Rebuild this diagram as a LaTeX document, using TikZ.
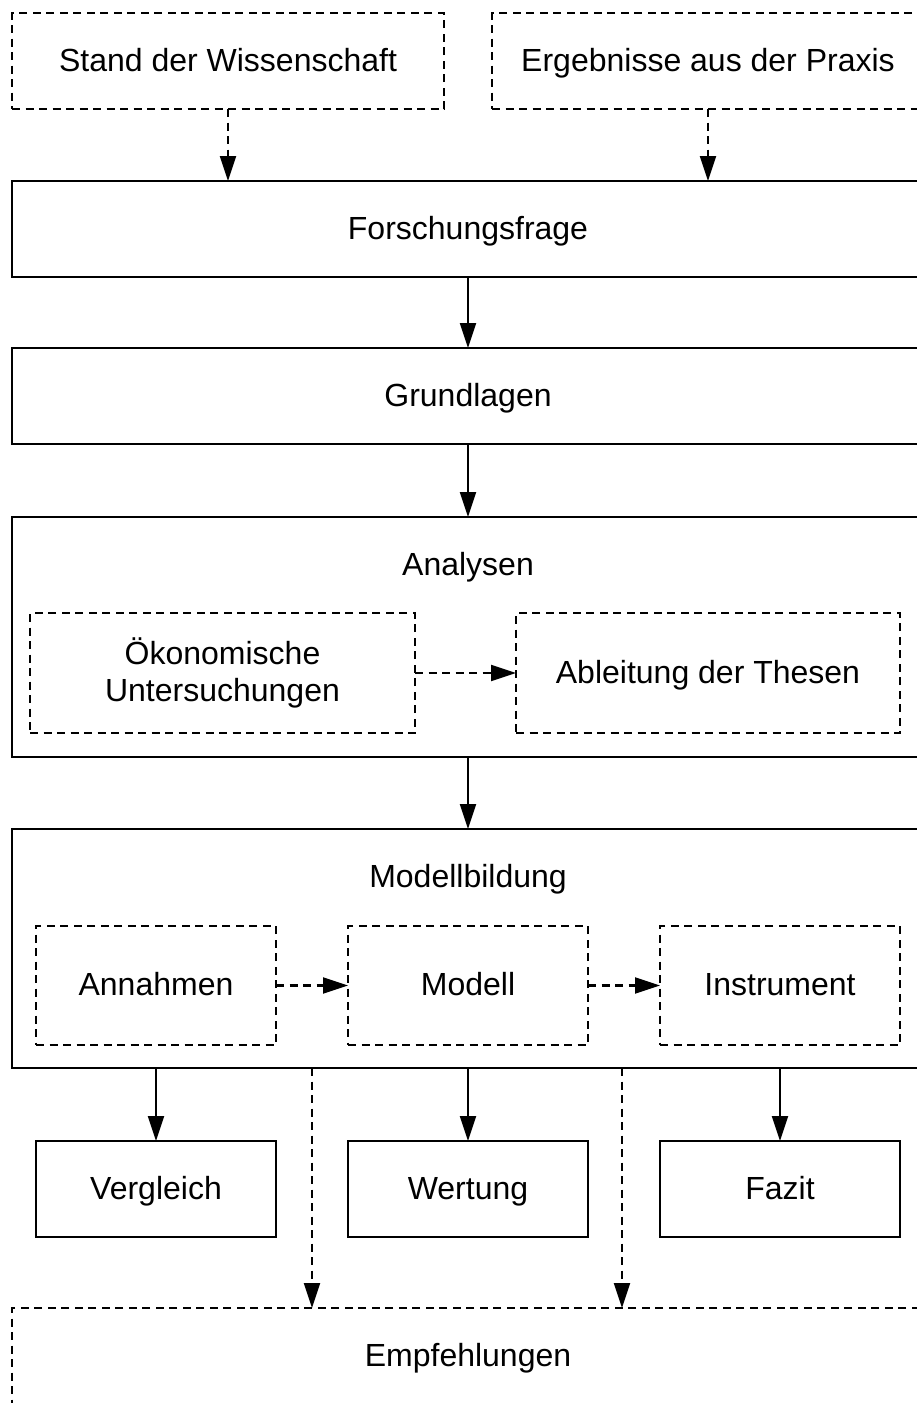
\documentclass[tikz,border=0pt]{standalone}
\usepackage{fontspec}
\setmainfont{Liberation Sans}
\usetikzlibrary{arrows.meta,calc}

\begin{document}
\begin{tikzpicture}[x=1pt,y=-1pt,
  every node/.style={font=\fontsize{32}{37}\selectfont, inner sep=0pt, outer sep=0pt,
    text height=26pt, text depth=6pt},
  solidbox/.style={draw, line width=2.2pt},
  dashbox/.style={draw, line width=2.2pt, dash pattern=on 8pt off 5.5pt},
  wide/.style={minimum width=912pt, minimum height=96pt},
  half/.style={minimum width=432pt, minimum height=96pt},
  inner/.style={minimum width=240pt, minimum height=119pt},
  result/.style={minimum width=240pt, minimum height=96pt},
  flow/.style={line width=2.2pt, -{Triangle[length=25pt,width=16pt]}},
  dflow/.style={flow, dash pattern=on 8pt off 5.5pt},
]
\useasboundingbox (0,0) rectangle (917,1403);

% sources
\node[dashbox, half] (stand) at (228,61) {Stand der Wissenschaft};
\node[dashbox, half] (erg) at (708,61) {Ergebnisse aus der Praxis};

% main chain
\node[solidbox, wide] (ff) at (468,229) {Forschungsfrage};
\node[solidbox, wide] (gl) at (468,396) {Grundlagen};

% analyses
\node[solidbox, minimum width=912pt, minimum height=240pt] (an) at (468,637) {};
\node (antitle) at (468,565) {Analysen};
\node[dashbox, minimum width=385pt, minimum height=120pt, align=center,
  text height=, text depth=] (oek) at (222.5,673) {Ökonomische\\Untersuchungen};
\node[dashbox, minimum width=384pt, minimum height=120pt] (abl) at (708,673) {Ableitung der Thesen};

% model building
\node[solidbox, minimum width=912pt, minimum height=239pt] (mb) at (468,948.5) {};
\node (mbtitle) at (468,877) {Modellbildung};
\node[dashbox, inner] (ann) at (156,985.5) {Annahmen};
\node[dashbox, inner] (mod) at (468,985.5) {Modell};
\node[dashbox, inner] (ins) at (780,985.5) {Instrument};

% results
\node[solidbox, result] (ver) at (156,1189) {Vergleich};
\node[solidbox, result] (wer) at (468,1189) {Wertung};
\node[solidbox, result] (faz) at (780,1189) {Fazit};

% recommendations
\node[dashbox, wide] (emp) at (468,1356) {Empfehlungen};

% connectors
\draw[dflow] (stand.south) -- (ff.north -| stand.south);
\draw[dflow] (erg.south) -- (ff.north -| erg.south);
\draw[flow] (ff.south) -- (gl.north);
\draw[flow] (gl.south) -- (an.north);
\draw[flow] (an.south) -- (mb.north);
\draw[dflow] (oek.east) -- (abl.west);
\draw[dflow] (ann.east) -- (mod.west);
\draw[dflow] (mod.east) -- (ins.west);
\draw[flow] (mb.south -| ver.north) -- (ver.north);
\draw[flow] (mb.south -| wer.north) -- (wer.north);
\draw[flow] (mb.south -| faz.north) -- (faz.north);
\coordinate (d1) at (312,0);
\coordinate (d2) at (622,0);
\draw[dflow] (mb.south -| d1) -- (emp.north -| d1);
\draw[dflow] (mb.south -| d2) -- (emp.north -| d2);
\end{tikzpicture}
\end{document}
